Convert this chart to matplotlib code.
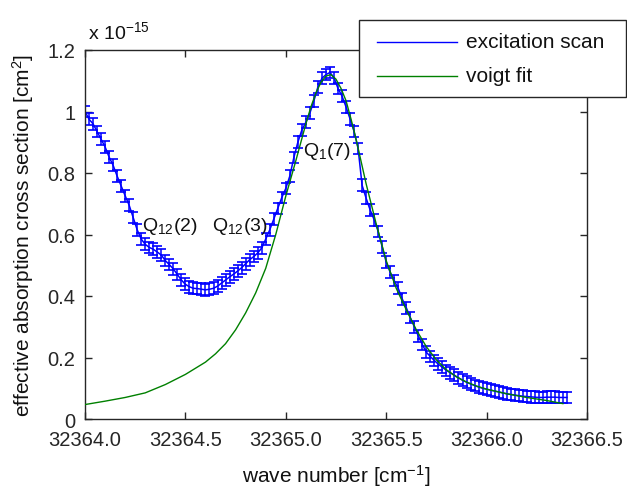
import numpy as np
import matplotlib
matplotlib.use("Agg")
import matplotlib.pyplot as plt
from matplotlib.lines import Line2D
from matplotlib.patches import Rectangle
from matplotlib.ticker import FuncFormatter

plt.rcParams['font.family'] = ['Liberation Sans', 'DejaVu Sans']
plt.rcParams['mathtext.fontset'] = 'custom'
plt.rcParams['mathtext.rm'] = 'Liberation Sans'
plt.rcParams['mathtext.it'] = 'Liberation Sans:italic'

# ---- data (cross section in units of 1e-15 cm^2) ----
scan_start = 32364.0
scan_step = 0.02
scan_values = [
    # 32364.00 - 32364.98
    1.00, 0.975, 0.96, 0.935, 0.91, 0.885, 0.852, 0.825, 0.79, 0.758,
    0.726, 0.695, 0.655, 0.615, 0.585, 0.568, 0.558, 0.552, 0.543, 0.533,
    0.515, 0.502, 0.488, 0.47, 0.452, 0.438, 0.43, 0.425, 0.424, 0.422,
    0.42, 0.422, 0.425, 0.432, 0.442, 0.452, 0.462, 0.471, 0.481, 0.492,
    0.505, 0.518, 0.528, 0.54, 0.556, 0.585, 0.615, 0.65, 0.685, 0.72,
    # 32365.00 - 32365.98
    0.75, 0.79, 0.85, 0.90, 0.94, 0.965, 0.995, 1.035, 1.08, 1.108,
    1.12, 1.127, 1.11, 1.075, 1.05, 1.015, 0.976, 0.935, 0.88, 0.76,
    0.718, 0.68, 0.648, 0.61, 0.56, 0.51, 0.477, 0.45, 0.425, 0.39,
    0.362, 0.33, 0.30, 0.27, 0.242, 0.217, 0.203, 0.19, 0.178, 0.168,
    0.158, 0.15, 0.142, 0.134, 0.126, 0.12, 0.114, 0.109, 0.104, 0.10,
    # 32366.00 - 32366.40
    0.097, 0.094, 0.091, 0.088, 0.085, 0.082, 0.08, 0.078, 0.076, 0.074,
    0.073, 0.072, 0.071, 0.070, 0.070, 0.071, 0.071, 0.071, 0.070, 0.070,
    0.070,
]
scan_err = 0.019

fit_x = [32364.0, 32364.1, 32364.2, 32364.3, 32364.4, 32364.5, 32364.6,
         32364.65, 32364.7, 32364.75, 32364.8, 32364.85, 32364.9, 32364.95,
         32365.0, 32365.05, 32365.1, 32365.125, 32365.15, 32365.175, 32365.2,
         32365.225, 32365.25, 32365.275, 32365.3, 32365.325, 32365.35,
         32365.4, 32365.45, 32365.5, 32365.55, 32365.6, 32365.65, 32365.7,
         32365.75, 32365.8, 32365.85, 32365.9, 32365.95, 32366.0, 32366.1,
         32366.2, 32366.3, 32366.38]
fit_y = [0.047, 0.058, 0.070, 0.085, 0.112, 0.145, 0.185,
         0.212, 0.245, 0.29, 0.345, 0.41, 0.49, 0.60,
         0.725, 0.84, 0.96, 1.015, 1.06, 1.095, 1.115,
         1.12, 1.105, 1.075, 1.035, 0.975, 0.91,
         0.765, 0.635, 0.515, 0.425, 0.355, 0.29, 0.235,
         0.192, 0.16, 0.137, 0.12, 0.107, 0.097, 0.082,
         0.070, 0.060, 0.050]

x_ticks = [32364.0, 32364.5, 32365.0, 32365.5, 32366.0, 32366.5]
y_ticks = [0, 0.2, 0.4, 0.6, 0.8, 1.0, 1.2]

labels = [("Q$_{\\mathregular{12}}$(2)", 32364.284, 0.628),
          ("Q$_{\\mathregular{12}}$(3)", 32364.632, 0.628),
          ("Q$_{\\mathregular{1}}$(7)", 32365.086, 0.872)]

scan_x = scan_start + scan_step * np.arange(len(scan_values))

# ---- figure ----
fig = plt.figure(figsize=(6.27, 4.89), dpi=100)
ax = fig.add_axes([85/627, 1-420/489, 502/627, 369/489])

ax.errorbar(scan_x, scan_values, yerr=scan_err, color=(0, 0, 1), lw=1.1,
            elinewidth=1.1, capsize=3.8, capthick=1.2, zorder=2)
ax.plot(fit_x, fit_y, color=(0, 0.5, 0), lw=1.0, zorder=3)

ax.set_xlim(32364.0, 32366.5)
ax.set_ylim(0, 1.2)
ax.set_xticks(x_ticks)
ax.set_yticks(y_ticks)
ax.xaxis.set_major_formatter(FuncFormatter(lambda v, p: f"{v:.1f}"))
ax.yaxis.set_major_formatter(FuncFormatter(lambda v, p: f"{v:g}"))
ax.tick_params(direction='in', length=5, width=1, top=True, right=True,
               labelsize=14.5, colors='#262626', pad=7)
ax.tick_params(axis='x', pad=8)
for s in ax.spines.values():
    s.set_color('#262626')
    s.set_linewidth(1.0)

ax.set_xlabel("wave number [cm$^{\\mathregular{-1}}$]", fontsize=15, color='#111111')
ax.set_ylabel("effective absorption cross section [cm$^{\\mathregular{2}}$]",
              fontsize=15, color='#111111')
ax.xaxis.set_label_coords(0.5, -0.118)
ax.yaxis.set_label_coords(-0.097, 0.5)

ax.text(0.006, 1.05, "x 10$^{\\mathregular{-15}}$", transform=ax.transAxes,
        fontsize=14, ha='left', va='center', color='#111111')

for txt, lx, ly in labels:
    ax.text(lx, ly, txt, fontsize=14, ha='left', va='center', color='#111111',
            zorder=4)

# legend box (figure pixel layout)
W, H = 627.0, 489.0
fig.add_artist(Rectangle((359/W, 1-98/H), (626-359)/W, (98-21)/H,
                         transform=fig.transFigure, facecolor='white',
                         edgecolor='#262626', lw=1.0, zorder=10))
for yy, col, name in [(43, (0, 0, 1), "excitation scan"),
                      (77, (0, 0.5, 0), "voigt fit")]:
    fig.add_artist(Line2D([377/W, 457/W], [1-yy/H, 1-yy/H],
                          transform=fig.transFigure, color=col, lw=1.0, zorder=11))
    fig.text(466/W, 1-yy/H, name, fontsize=15, ha='left', va='center',
             color='#111111', zorder=11)

fig.savefig("out.png", dpi=100)
